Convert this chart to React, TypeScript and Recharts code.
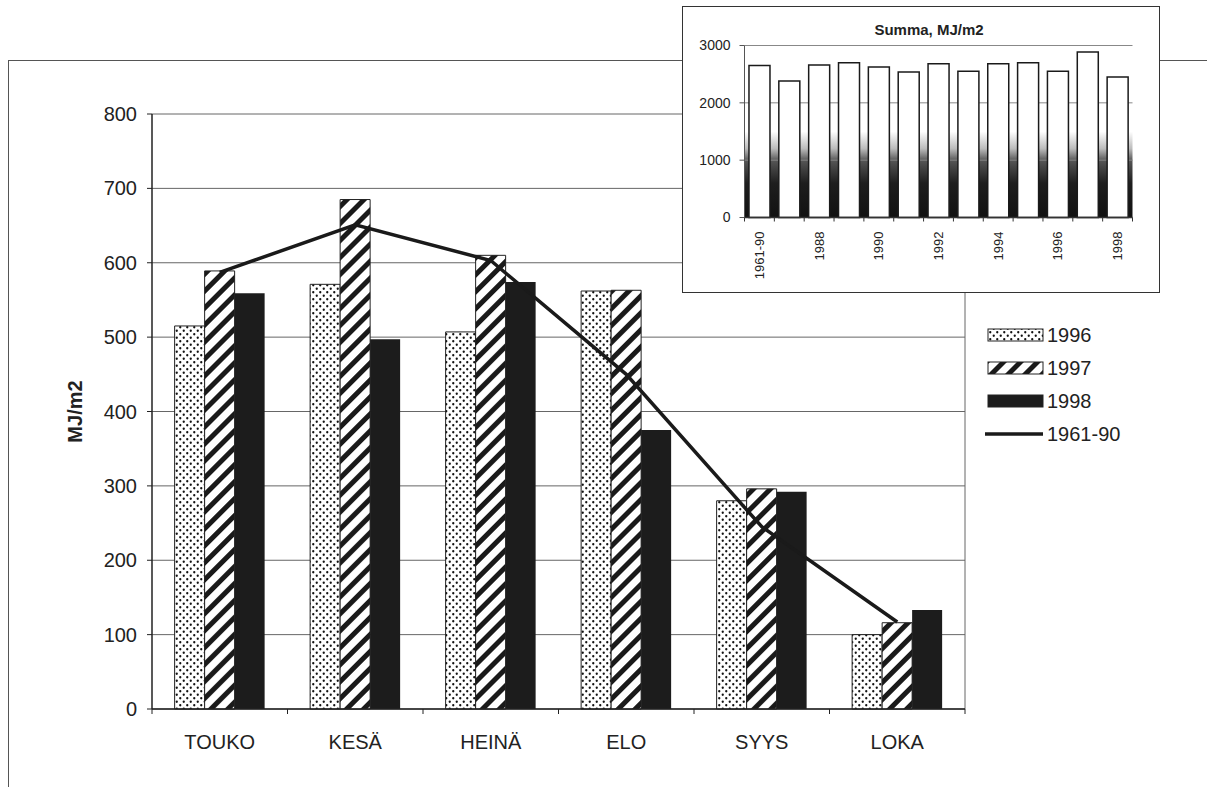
import {
  Bar,
  BarChart,
  CartesianGrid,
  ComposedChart,
  Label,
  Legend,
  Line,
  XAxis,
  YAxis,
} from "recharts";

const FONT = "'Liberation Sans', Arial, sans-serif";
const NARROW = "'Liberation Sans Narrow', 'Liberation Sans', Arial, sans-serif";

// monthly global radiation, MJ/m2
const months = ["TOUKO", "KESÄ", "HEINÄ", "ELO", "SYYS", "LOKA"];
const rad1996 = [515, 571, 507, 562, 280, 100];
const rad1997 = [589, 685, 610, 563, 296, 116];
const rad1998 = [559, 497, 574, 375, 292, 133];
const rad6190 = [587, 651, 603, 450, 245, 117];
const monthTicks = [0, 100, 200, 300, 400, 500, 600, 700, 800];
const seriesNames = ["1996", "1997", "1998", "1961-90"];

// yearly sums for the small chart
const years = [
  "1961-90", "1987", "1988", "1989", "1990", "1991", "1992",
  "1993", "1994", "1995", "1996", "1997", "1998",
];
const yearTotals = [2652, 2379, 2658, 2700, 2623, 2536, 2682, 2553, 2682, 2700, 2553, 2885, 2449];
const totalTicks = [0, 1000, 2000, 3000];

const monthly = months.map((m, i) => ({
  month: m,
  y1996: rad1996[i],
  y1997: rad1997[i],
  y1998: rad1998[i],
  y6190: rad6190[i],
}));
const totals = years.map((y, i) => ({ year: y, total: yearTotals[i] }));

const fills = ["url(#dots)", "url(#stripes)", "#1c1c1c"];

const MonthTick = (props: any) => {
  const { x, y, payload, index } = props;
  const half = payload?.offset ?? 67.5;
  const i = index ?? payload?.index ?? 0;
  return (
    <g>
      <line x1={x - half} x2={x - half} y1={y} y2={y + 5} stroke="#222" strokeWidth={1} />
      {i === months.length - 1 && (
        <line x1={x + half} x2={x + half} y1={y} y2={y + 5} stroke="#222" strokeWidth={1} />
      )}
      <text x={x} y={y + 40} textAnchor="middle" fontFamily={FONT} fontSize={20} fill="#222">
        {payload.value}
      </text>
    </g>
  );
};

const YearTick = (props: any) => {
  const { x, y, payload, index } = props;
  const half = payload?.offset ?? 15;
  const i = index ?? payload?.index ?? 0;
  const ty = y + 14;
  return (
    <g>
      <line x1={x - half} x2={x - half} y1={y} y2={y + 4} stroke="#333" strokeWidth={1} />
      {i === years.length - 1 && (
        <line x1={x + half} x2={x + half} y1={y} y2={y + 4} stroke="#333" strokeWidth={1} />
      )}
      {i % 2 === 0 && (
        <text
          x={x}
          y={ty}
          transform={`rotate(-90 ${x} ${ty})`}
          textAnchor="end"
          dominantBaseline="central"
          fontFamily={FONT}
          fontSize={13}
          fill="#222"
        >
          {payload.value}
        </text>
      )}
    </g>
  );
};

const LegendBox = () => (
  <div style={{ fontFamily: FONT, fontSize: 20, color: "#222" }}>
    {seriesNames.map((name, i) => (
      <div key={name} style={{ display: "flex", alignItems: "center", height: 33 }}>
        <svg width={60} height={16}>
          {i < 3 ? (
            <rect x={3} y={2} width={55} height={12} fill={fills[i]} stroke="#222" strokeWidth={1} />
          ) : (
            <line x1={0} x2={58} y1={8} y2={8} stroke="#1a1a1a" strokeWidth={3.5} />
          )}
        </svg>
        <span style={{ marginLeft: 2, lineHeight: "20px" }}>{name}</span>
      </div>
    ))}
  </div>
);

const AxisTitle = (props: any) => {
  const vb = props.viewBox || {};
  const cx = 75;
  const cy = vb.height ? vb.y + vb.height / 2 : 411;
  return (
    <text
      x={cx}
      y={cy}
      transform={`rotate(-90 ${cx} ${cy})`}
      textAnchor="middle"
      dominantBaseline="central"
      fontFamily={FONT}
      fontWeight="bold"
      fontSize={20}
      fill="#222"
    >
      MJ/m2
    </text>
  );
};

const SumChart = () => (
  <div
    style={{
      position: "absolute",
      left: 682,
      top: 6,
      width: 478,
      height: 287,
      boxSizing: "border-box",
      border: "1.5px solid #333",
      background: "#fff",
    }}
  >
    <div
      style={{
        position: "absolute",
        left: 246,
        top: 14,
        transform: "translateX(-50%)",
        fontFamily: NARROW,
        fontWeight: "bold",
        fontSize: 15,
        color: "#222",
        whiteSpace: "nowrap",
      }}
    >
      Summa, MJ/m2
    </div>
    <BarChart
      width={475}
      height={284}
      data={totals}
      margin={{ top: 38.5, right: 25.5, bottom: 13.5, left: 11.5 }}
      barCategoryGap="15%"
    >
      <defs>
        <linearGradient id="insetShade" x1="0" y1="0" x2="0" y2="1">
          <stop offset="0" stopColor="#fff" />
          <stop offset="0.5" stopColor="#fff" />
          <stop offset="0.6" stopColor="#bbb" />
          <stop offset="0.67" stopColor="#555" />
          <stop offset="0.8" stopColor="#1e1e1e" />
          <stop offset="1" stopColor="#111" />
        </linearGradient>
      </defs>
      <CartesianGrid vertical={false} stroke="#888" fill="url(#insetShade)" />
      <XAxis
        dataKey="year"
        height={60}
        interval={0}
        tickLine={false}
        tickSize={0}
        tickMargin={0}
        axisLine={{ stroke: "#333", strokeWidth: 1.5 }}
        tick={<YearTick />}
      />
      <YAxis
        width={50}
        domain={[0, 3000]}
        ticks={totalTicks}
        tickSize={5}
        tickMargin={9}
        axisLine={{ stroke: "#555" }}
        tickLine={{ stroke: "#555" }}
        tick={{ fontFamily: FONT, fontSize: 14, fill: "#222" }}
      />
      <Bar dataKey="total" fill="#fff" stroke="#1a1a1a" strokeWidth={1.5} isAnimationActive={false} />
    </BarChart>
  </div>
);

export default function App() {
  return (
    <div
      style={{
        position: "absolute",
        left: 0,
        top: 0,
        width: 1207,
        height: 787,
        overflow: "hidden",
        background: "#fff",
      }}
    >
      <div
        style={{
          position: "absolute",
          left: 8,
          top: 60,
          width: 1220,
          height: 800,
          borderLeft: "1.5px solid #555",
          borderTop: "1.5px solid #555",
        }}
      />
      <ComposedChart
        width={1207}
        height={787}
        data={monthly}
        margin={{ top: 114, right: 242, bottom: 38, left: 92 }}
        barCategoryGap="16.7%"
        barGap={0}
        style={{ position: "absolute", left: 0, top: 0 }}
      >
        <defs>
          <pattern id="dots" width={7} height={7} patternUnits="userSpaceOnUse">
            <rect width={7} height={7} fill="#fff" />
            <circle cx={1.75} cy={1.75} r={1.15} fill="#111" />
            <circle cx={5.25} cy={5.25} r={1.15} fill="#111" />
          </pattern>
          <pattern
            id="stripes"
            width={12}
            height={12}
            patternUnits="userSpaceOnUse"
            patternTransform="rotate(45)"
          >
            <rect width={12} height={12} fill="#fff" />
            <rect width={5} height={12} fill="#1a1a1a" />
          </pattern>
        </defs>
        <CartesianGrid
          stroke="#666"
          vertical
          horizontal
          verticalCoordinatesGenerator={({ offset }: any) => [offset.left + offset.width]}
        />
        <XAxis
          dataKey="month"
          height={40}
          interval={0}
          tickLine={false}
          tickSize={0}
          tickMargin={0}
          axisLine={{ stroke: "#222", strokeWidth: 1.5 }}
          tick={<MonthTick />}
        />
        <YAxis
          width={60}
          domain={[0, 800]}
          ticks={monthTicks}
          tickSize={5}
          tickMargin={10}
          axisLine={{ stroke: "#222", strokeWidth: 1.5 }}
          tickLine={{ stroke: "#222" }}
          tick={{ fontFamily: FONT, fontSize: 20, fill: "#222" }}
        >
          <Label content={<AxisTitle />} />
        </YAxis>
        <Legend
          layout="vertical"
          align="center"
          verticalAlign="middle"
          wrapperStyle={{ left: 985, top: 318, width: 200 }}
          content={<LegendBox />}
        />
        <Bar dataKey="y1996" name="1996" fill={fills[0]} stroke="#222" strokeWidth={1} isAnimationActive={false} />
        <Bar dataKey="y1997" name="1997" fill={fills[1]} stroke="#222" strokeWidth={1} isAnimationActive={false} />
        <Bar dataKey="y1998" name="1998" fill={fills[2]} isAnimationActive={false} />
        <Line
          type="linear"
          dataKey="y6190"
          name="1961-90"
          stroke="#1a1a1a"
          strokeWidth={3.5}
          dot={false}
          activeDot={false}
          isAnimationActive={false}
        />
      </ComposedChart>
      <SumChart />
    </div>
  );
}
